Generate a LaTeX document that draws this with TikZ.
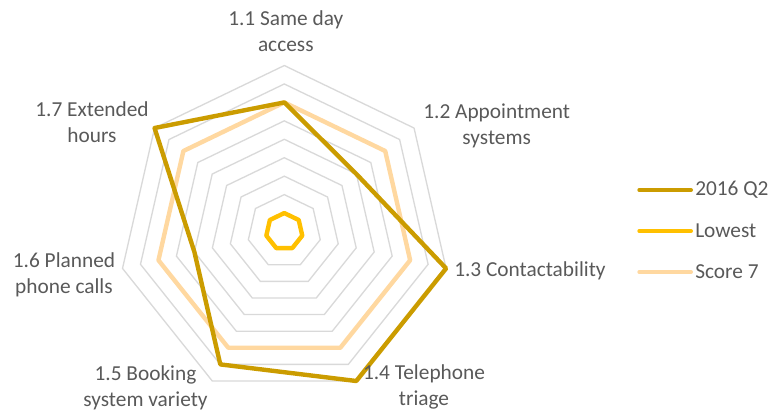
\documentclass[tikz,border=0pt]{standalone}
\usepackage{fontspec}
\setmainfont{Carlito}
\usepackage{xcolor}
\usepackage{tikz}
\usetikzlibrary{positioning}

\definecolor{qtwo}{RGB}{203,156,0}
\definecolor{lowest}{RGB}{255,192,0}
\definecolor{scoreseven}{RGB}{255,216,160}
\definecolor{gridgray}{RGB}{217,217,217}
\definecolor{labelgray}{RGB}{89,89,89}
\newcommand{\radunit}{18.44}

\begin{document}
\begin{tikzpicture}
			[x=0.75pt, y=0.75pt,
			font=\fontsize{16}{19.5}\selectfont,
			gridline/.style={draw=gridgray, line width=1pt},
			serq/.style={draw=qtwo, line width=3.3pt, line join=round},
			serlow/.style={draw=lowest, line width=3.3pt, line join=round},
			sersev/.style={draw=scoreseven, line width=3.3pt, line join=round},
			axislabel/.style={text=labelgray, align=center, inner sep=0pt},
			legtext/.style={text=labelgray, inner sep=0pt, anchor=west},
			]
			\useasboundingbox (-284.3,-184.5) rectangle (489.7,231.5);
			
			% rings
			\foreach \r in {1,...,9}
				\draw[gridline] (90:\r*\radunit) \foreach \k in {1,...,6} {-- (90-\k*360/7:\r*\radunit)} -- cycle;
			
			% series
			\draw[sersev] (90:7*\radunit) \foreach \v [count=\k] in {7,7,7,7,7,7} {-- (90-\k*360/7:\v*\radunit)} -- cycle;
			\draw[serlow] (90:1*\radunit) \foreach \v [count=\k] in {1,1,1,1,1,1} {-- (90-\k*360/7:\v*\radunit)} -- cycle;
			\draw[serq] (90:7*\radunit) \foreach \v [count=\k] in {5,9,9,8,5,9} {-- (90-\k*360/7:\v*\radunit)} -- cycle;
			
			% axis labels
			\node[axislabel] (sameday) at (1.5,200.4) {1.1 Same day\\access};
			\node[axislabel] (appoint) at (212.4,105.6) {1.2 Appointment\\systems};
			\node[axislabel, anchor=base west] (contact) at (169.7,-45.2) {1.3 Contactability};
			\node[axislabel] (triage) at (139.7,-155.9) {1.4 Telephone\\triage};
			\node[axislabel] (booking) at (-138.8,-155.9) {1.5 Booking\\system variety};
			\node[axislabel] (planned) at (-220.3,-43.2) {1.6 Planned\\phone calls};
			\node[axislabel] (extended) at (-192.3,109.4) {1.7 Extended\\hours};
			
			% legend
			\node[legtext] (legq) at (410.7,41.5) {2016 Q2};
			\node[legtext] (leglow) at (410.7,0.5) {Lowest};
			\node[legtext] (legsev) at (410.7,-40.5) {Score 7};
			\coordinate (kq) at (355,41.5);
			\coordinate (klow) at (355,0.5);
			\coordinate (ksev) at (355,-40.5);
			\draw[serq, line width=3pt, line cap=round] (kq) -- ([xshift=-3pt]legq.west);
			\draw[serlow, line width=3pt, line cap=round] (klow) -- ([xshift=-3pt]leglow.west);
			\draw[sersev, line width=3pt, line cap=round] (ksev) -- ([xshift=-3pt]legsev.west);
			
		\end{tikzpicture}
\end{document}
